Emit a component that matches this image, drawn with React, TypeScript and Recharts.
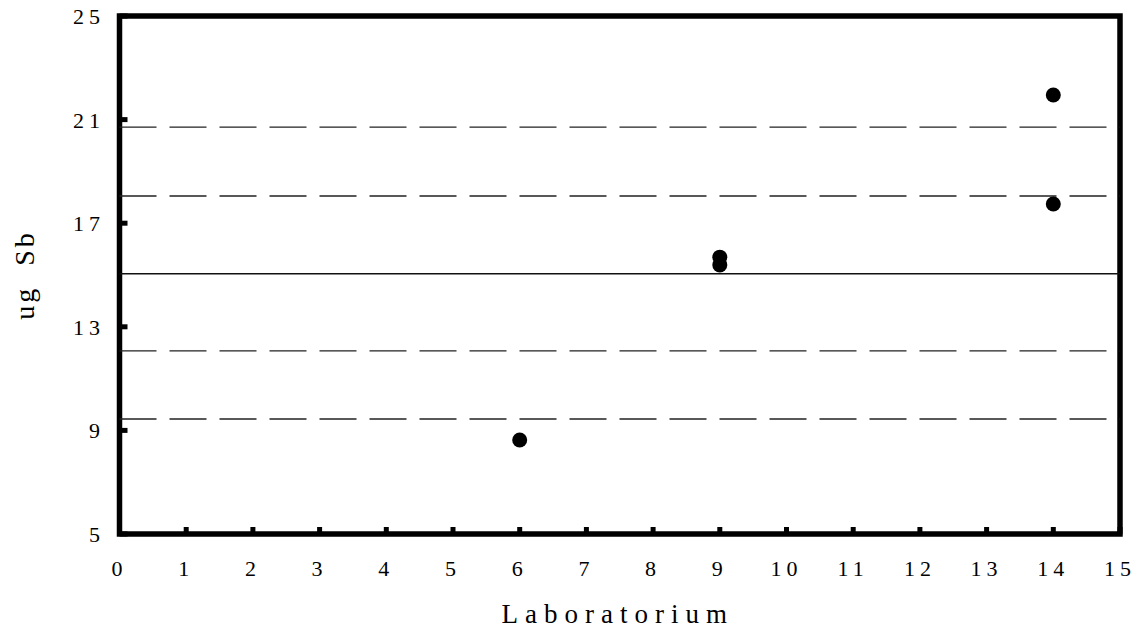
import React from 'react';
import { ScatterChart, Scatter, XAxis, YAxis, ReferenceLine, ReferenceArea, Label } from 'recharts';

const labs = [6, 9, 9, 14, 14];
const values = [8.63, 15.69, 15.39, 21.95, 17.74];
const xTicks = [0, 1, 2, 3, 4, 5, 6, 7, 8, 9, 10, 11, 12, 13, 14, 15];
const yTicks = [5, 9, 13, 17, 21, 25];
const meanLine = 15.05;
const limitLines = [20.71, 18.05, 12.07, 9.44];

const points = labs.map((x, i) => ({ x, y: values[i] }));

const FONT = '"Liberation Serif", "DejaVu Serif", serif';

const Dot = (p: any) => <circle cx={p.cx} cy={p.cy} r={7.5} fill="#000" />;

const XTick = (p: any) => (
  <text
    x={p.x}
    y={p.y}
    dy="0.71em"
    textAnchor="middle"
    style={{ fill: '#000', fontSize: 22, fontFamily: FONT, letterSpacing: 5 }}
  >
    {p.payload.value}
  </text>
);

const YTick = (p: any) => (
  <text
    x={p.x}
    y={p.y}
    dy="0.36em"
    textAnchor="end"
    style={{ fill: '#000', fontSize: 22, fontFamily: FONT, letterSpacing: 5 }}
  >
    {p.payload.value}
  </text>
);

export default function App() {
  return (
    <div style={{ margin: -8 }}>
      <ScatterChart width={1139} height={632} margin={{ top: 16, right: 19, bottom: 0, left: 19.5 }}>
        <XAxis
          type="number"
          dataKey="x"
          domain={[0, 15]}
          ticks={xTicks}
          allowDataOverflow
          axisLine={false}
          tickSize={-7}
          tickMargin={33}
          tickLine={{ stroke: '#000', strokeWidth: 5 }}
          tick={XTick}
          height={98}
          interval={0}
        >
          <Label
            value="Laboratorium"
            position="insideBottom"
            offset={9}
            dx={-2}
            style={{ fill: '#000', fontSize: 27, fontFamily: FONT, letterSpacing: 7 }}
          />
        </XAxis>
        <YAxis
          type="number"
          dataKey="y"
          domain={[5, 25]}
          ticks={yTicks}
          allowDataOverflow
          axisLine={false}
          tickSize={-8}
          tickMargin={22.5}
          tickLine={{ stroke: '#000', strokeWidth: 5 }}
          tick={YTick}
          width={100}
          interval={0}
        >
          <Label
            content={(props: any) => {
              const vb = props.viewBox;
              const cx = vb.x + 4.5;
              const cy = vb.y + vb.height / 2;
              return (
                <text
                  x={cx}
                  y={cy}
                  transform={`rotate(-90 ${cx} ${cy})`}
                  textAnchor="middle"
                  dominantBaseline="central"
                  style={{ fill: '#000', fontSize: 28, fontFamily: FONT, letterSpacing: 3, wordSpacing: 10 }}
                >
                  ug Sb
                </text>
              );
            }}
          />
        </YAxis>
        {limitLines.map((v) => (
          <ReferenceLine key={v} y={v} stroke="#222" strokeWidth={1.3} strokeDasharray="37 13" />
        ))}
        <ReferenceLine y={meanLine} stroke="#111" strokeWidth={1.5} />
        <Scatter data={points} shape={Dot} isAnimationActive={false} />
        <ReferenceArea x1={0} x2={15} y1={5} y2={25} fill="none" fillOpacity={0} stroke="#000" strokeWidth={5.5} />
      </ScatterChart>
    </div>
  );
}
